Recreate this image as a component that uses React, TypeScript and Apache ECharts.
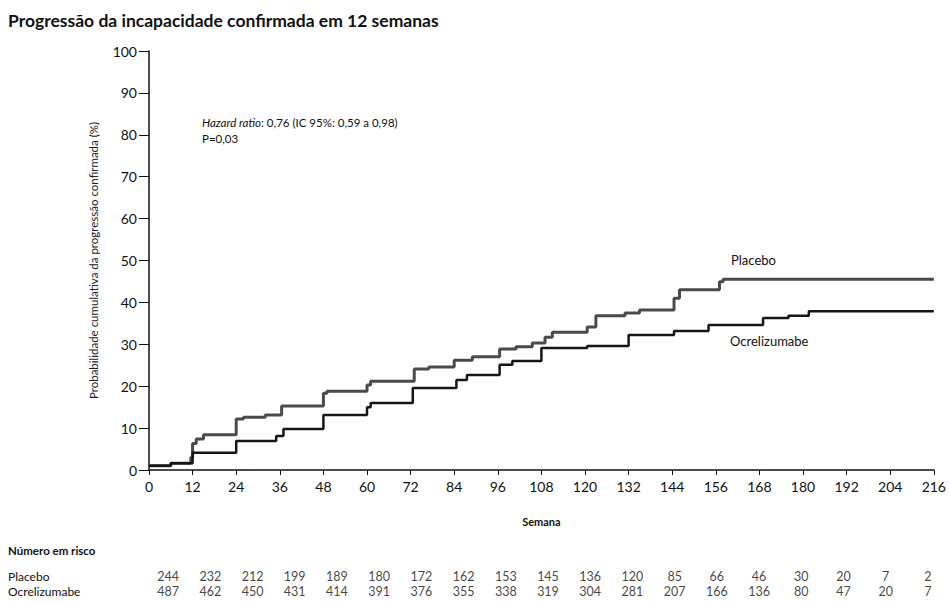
import React, { useEffect, useRef } from "react";
import * as echarts from "echarts";

const titleText = "Progressão da incapacidade confirmada em 12 semanas";
const yAxisTitle = "Probabilidade cumulativa da progressão confirmada (%)";
const xAxisTitle = "Semana";
const riskTitle = "Número em risco";

// Kaplan-Meier step points: [week, cumulative %]
const placeboSteps: [number, number][] = [
  [0, 1.0], [6, 1.6], [11.5, 3.0], [12, 6.3], [13, 7.4], [15, 8.4],
  [24, 12.2], [26, 12.6], [32, 13.1], [36.5, 15.3], [48, 18.3], [49, 18.8],
  [60, 20.3], [61, 21.2], [73, 24.1], [77, 24.6], [84, 26.2], [89, 27.0],
  [96.5, 28.9], [101, 29.4], [105.5, 30.3], [109, 31.7], [111, 32.9],
  [120.6, 34.1], [123, 36.8], [131, 37.5], [135, 38.2], [144.5, 41.0],
  [146, 43.0], [157, 44.9], [158, 45.5], [216, 45.5],
];

const ocreSteps: [number, number][] = [
  [0, 1.0], [6, 1.6], [12, 4.1], [24, 6.9], [35, 8.1], [37, 9.8],
  [48, 13.1], [60, 15.0], [61, 16.0], [72.6, 19.6], [84.6, 21.5],
  [87.5, 22.7], [96.5, 25.1], [100, 26.0], [108, 29.1], [120.6, 29.6],
  [132, 32.2], [144.5, 33.2], [154, 34.6], [169, 36.3], [176, 36.8],
  [181.6, 37.9], [216, 37.9],
];

const riskGroups = ["Placebo", "Ocrelizumabe"];
const riskPlacebo = [244, 232, 212, 199, 189, 180, 172, 162, 153, 145, 136, 120, 85, 66, 46, 30, 20, 7, 2];
const riskOcre = [487, 462, 450, 431, 414, 391, 376, 355, 338, 319, 304, 281, 207, 166, 136, 80, 47, 20, 7];
const riskColumns = riskPlacebo.map((_, i) => String(i));

const FONT = "Lato, 'Noto Sans', sans-serif";

export default function App() {
  const ref = useRef<HTMLDivElement>(null);
  useEffect(() => {
    document.body.style.margin = "0";
    if (!ref.current) return;
    const chart = echarts.init(ref.current, undefined, { renderer: "svg" });
    const riskData: any[] = [];
    riskPlacebo.forEach((v, i) => riskData.push([i, 0, v]));
    riskOcre.forEach((v, i) => riskData.push([i, 1, v]));
    chart.setOption({
      animation: false,
      backgroundColor: "#ffffff",
      textStyle: { fontFamily: FONT },
      title: [
        {
          text: titleText,
          left: 8,
          top: 11,
          padding: 0,
          textStyle: { fontSize: 17.5, fontWeight: "bold", color: "#111", fontFamily: FONT },
        },
        {
          text: riskTitle,
          left: 8,
          top: 544,
          padding: 0,
          textStyle: { fontSize: 11.5, fontWeight: "bold", color: "#111", fontFamily: FONT },
        },
      ],
      grid: [
        { left: 149, right: 14, top: 51, bottom: 133, containLabel: false },
        { left: 147, width: 804, top: 569, height: 30, containLabel: false },
      ],
      xAxis: [
        {
          type: "value",
          gridIndex: 0,
          min: 0,
          max: 216,
          interval: 12,
          name: xAxisTitle,
          nameLocation: "middle",
          nameGap: 46,
          nameTextStyle: { fontSize: 11, fontWeight: "bold", color: "#111", fontFamily: FONT },
          axisLine: { lineStyle: { color: "#111", width: 1.5 } },
          axisTick: { show: true, length: 5, lineStyle: { color: "#111" } },
          axisLabel: { fontSize: 14, color: "#111", margin: 9, fontFamily: FONT },
          splitLine: { show: false },
        },
        {
          type: "category",
          gridIndex: 1,
          data: riskColumns,
          boundaryGap: true,
          show: false,
        },
      ],
      yAxis: [
        {
          type: "value",
          gridIndex: 0,
          min: 0,
          max: 100,
          interval: 10,
          name: yAxisTitle,
          nameLocation: "middle",
          nameGap: 50,
          nameTextStyle: { fontSize: 11.5, color: "#222", fontFamily: FONT },
          axisLine: { show: true, lineStyle: { color: "#111", width: 1.5 } },
          axisTick: { show: true, length: 10, lineStyle: { color: "#111" } },
          axisLabel: { fontSize: 14, color: "#111", margin: 12, fontFamily: FONT },
          splitLine: { show: false },
        },
        {
          type: "category",
          gridIndex: 1,
          data: riskGroups,
          inverse: true,
          axisLine: { show: false },
          axisTick: { show: false },
          axisLabel: { interval: 0, align: "left", margin: 139, fontSize: 12, color: "#111", fontFamily: FONT },
        },
      ],
      graphic: [
        {
          type: "text",
          left: 202,
          top: 116,
          style: {
            text: "{i|Hazard ratio}{n|: 0,76 (IC 95%: 0,59 a 0,98)}\n{n|P=0,03}",
            rich: {
              i: { fontStyle: "italic", fontSize: 11.5, fontFamily: FONT, fill: "#111", lineHeight: 16 },
              n: { fontSize: 11.5, fontFamily: FONT, fill: "#111", lineHeight: 16 },
            },
          },
        },
        {
          type: "text",
          left: 731,
          top: 253,
          style: { text: "Placebo", fontSize: 13, fontFamily: FONT, fill: "#111" },
        },
        {
          type: "text",
          left: 730,
          top: 334,
          style: { text: "Ocrelizumabe", fontSize: 13, fontFamily: FONT, fill: "#111" },
        },
      ],
      series: [
        {
          name: "Placebo",
          type: "line",
          step: "end",
          xAxisIndex: 0,
          yAxisIndex: 0,
          showSymbol: false,
          data: placeboSteps,
          lineStyle: { color: "#4a4a4a", width: 3 },
        },
        {
          name: "Ocrelizumabe",
          type: "line",
          step: "end",
          xAxisIndex: 0,
          yAxisIndex: 0,
          showSymbol: false,
          data: ocreSteps,
          lineStyle: { color: "#151515", width: 2.5 },
        },
        {
          name: "risk",
          type: "scatter",
          xAxisIndex: 1,
          yAxisIndex: 1,
          symbolSize: 1,
          itemStyle: { color: "rgba(0,0,0,0)" },
          data: riskData,
          label: {
            show: true,
            position: "inside",
            formatter: (p: any) => String(p.value[2]),
            fontSize: 12.5,
            color: "#111",
            fontFamily: FONT,
          },
        },
      ],
    });
    return () => chart.dispose();
  }, []);
  return <div ref={ref} style={{ width: 949, height: 603 }} />;
}
